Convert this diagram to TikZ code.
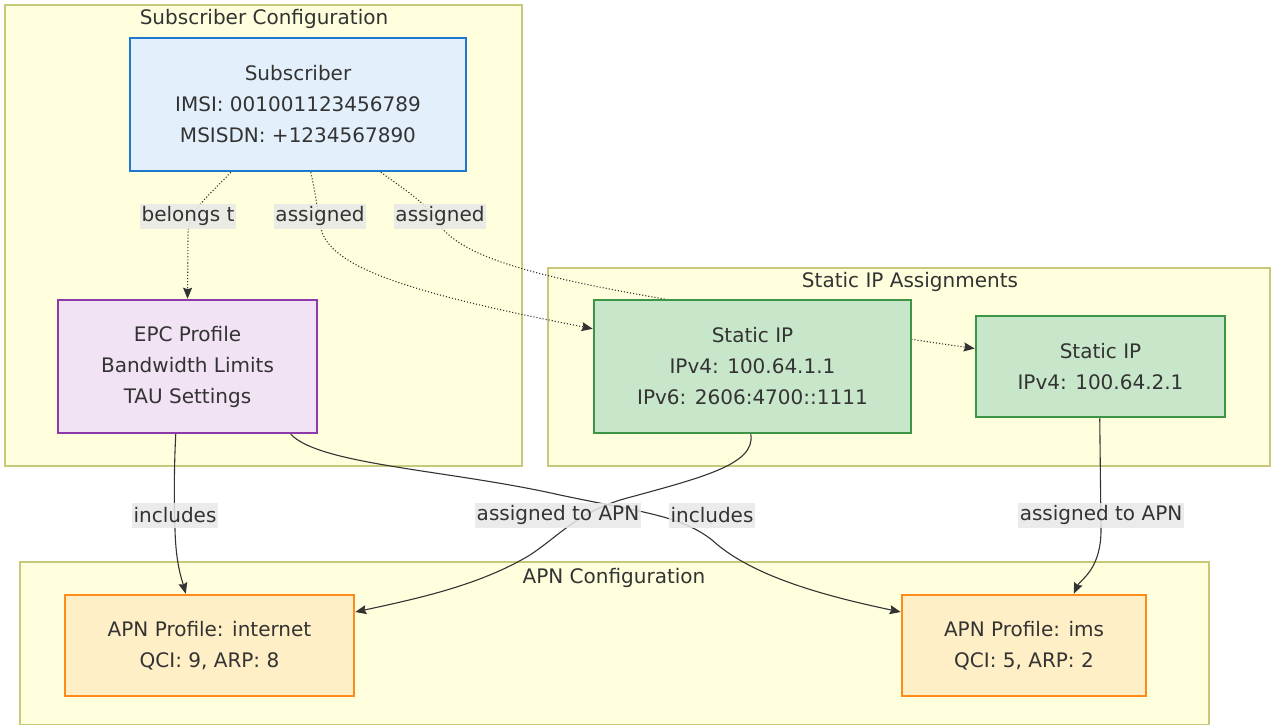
\documentclass[tikz,border=0pt]{standalone}
\usepackage{fontspec}
\setmainfont{DejaVu Sans}
\usetikzlibrary{arrows.meta,calc}
\definecolor{txt}{HTML}{333333}
\definecolor{clfill}{HTML}{FFFFDE}
\definecolor{cldraw}{HTML}{C8C87A}
\definecolor{subfill}{HTML}{E3F0FB}
\definecolor{subdraw}{HTML}{1E78D2}
\definecolor{epcfill}{HTML}{F1E2F4}
\definecolor{epcdraw}{HTML}{8E3AAA}
\definecolor{ipfill}{HTML}{C8E6C9}
\definecolor{ipdraw}{HTML}{3C9446}
\definecolor{apnfill}{HTML}{FFEFC6}
\definecolor{apndraw}{HTML}{FF8C1A}
\definecolor{lblfill}{HTML}{E8E8E8}
\definecolor{edgecol}{HTML}{333333}
\pgfdeclarelayer{clusters}
\pgfdeclarelayer{edges}
\pgfsetlayers{clusters,edges,main}
\tikzset{
  cluster/.style={draw=cldraw, fill=clfill, line width=1.1pt},
  cltitle/.style={text=txt, font=\fontsize{20}{24}\selectfont, inner sep=0pt},
  box/.style={rectangle, line width=2.5pt, text=txt, align=center,
    font=\fontsize{20}{31}\selectfont, inner sep=0pt},
  subbox/.style={box, draw=subdraw, fill=subfill},
  epcbox/.style={box, draw=epcdraw, fill=epcfill},
  ipbox/.style={box, draw=ipdraw, fill=ipfill},
  apnbox/.style={box, draw=apndraw, fill=apnfill},
  elabel/.style={fill=lblfill, fill opacity=0.85, text opacity=1, text=txt,
    font=\fontsize{20}{24}\selectfont, inner xsep=1.5pt, inner ysep=0pt,
    minimum height=25pt},
  solidedge/.style={draw=edgecol, line width=1.1pt, -{Stealth[length=11pt,width=9pt,inset=1.5pt]}},
  dotedge/.style={solidedge, dotted},
}
\begin{document}
\begin{tikzpicture}[x=1pt,y=-1pt]
\useasboundingbox (0,0) rectangle (1272,725);

% nodes
\node[subbox, minimum width=336pt, minimum height=133pt] (sub) at (298,104.5)
  {Subscriber\\IMSI: 001001123456789\\MSISDN: +1234567890};
\node[epcbox, minimum width=259pt, minimum height=133pt] (epc) at (187.5,366.5)
  {EPC Profile\\Bandwidth Limits\\TAU Settings};
\node[ipbox, minimum width=317pt, minimum height=133pt] (sip1) at (752.5,366.5)
  {Static IP\\IPv4: 100.64.1.1\\IPv6: 2606:4700::1111};
\node[ipbox, minimum width=249pt, minimum height=101pt] (sip2) at (1100.5,366.5)
  {Static IP\\IPv4: 100.64.2.1};
\node[apnbox, minimum width=289pt, minimum height=101pt] (apn1) at (209.5,645.5)
  {APN Profile: internet\\QCI: 9, ARP: 8};
\node[apnbox, minimum width=244pt, minimum height=101pt] (apn2) at (1024,645.5)
  {APN Profile: ims\\QCI: 5, ARP: 2};

% clusters
\begin{pgfonlayer}{clusters}
\draw[cluster] (5,5) rectangle (522,466);
\draw[cluster] (548,268) rectangle (1270,466);
\draw[cluster] (20,562) rectangle (1209,724.5);
\node[cltitle] (t1) at (264,19) {Subscriber Configuration};
\node[cltitle] (t2) at (910,282) {Static IP Assignments};
\node[cltitle] (t3) at (614,578) {APN Configuration};
\end{pgfonlayer}

% edge labels
\node[elabel] (l1) at (188,216) {belongs t};
\node[elabel] (l2) at (320,216) {assigned};
\node[elabel] (l3) at (440,216) {assigned};
\node[elabel] (l4) at (175,515) {includes};
\node[elabel] (l5) at (558,515) {assigned to APN};
\node[elabel] (l6) at (712,515) {includes};
\node[elabel] (l7) at (1101,515) {assigned to APN};

% edges
\begin{pgfonlayer}{edges}
\draw[dotedge] ($(sub.south west)+(102,0)$) .. controls (210,195) and (188,210) .. (188,235)
  -- (epc.north);
\draw[dotedge] ($(sub.south west)+(182,0)$) .. controls (316,195) and (318,215) .. (322,232)
  .. controls (335,270) and (420,295) .. ($(sip1.north west)+(0,30)$);
\draw[dotedge] ($(sub.south west)+(252,0)$) .. controls (405,190) and (430,205) .. (442,228)
  .. controls (470,262) and (560,282) .. (700,305)
  .. controls (800,322) and (900,338) .. ($(sip2.west)+(0,-18)$);
\draw[solidedge] ($(epc.south west)+(119,0)$) .. controls (174,470) and (174,500) .. (175,530)
  .. controls (176,565) and (182,580) .. ($(apn1.north west)+(122,0)$);
\draw[solidedge] ($(epc.south west)+(234,0)$) .. controls (320,465) and (450,470) .. (560,495)
  .. controls (640,512) and (680,515) .. (712,540)
  .. controls (750,575) and (820,595) .. ($(apn2.west)+(0,-33.5)$);
\draw[solidedge] ($(sip1.south west)+(158,0)$) .. controls (756,465) and (700,478) .. (620,500)
  .. controls (575,515) and (560,535) .. (530,555)
  .. controls (480,585) and (420,598) .. ($(apn1.east)+(0,-33.5)$);
\draw[solidedge] ($(sip2.south west)+(125,0)$) -- (1101,530)
  .. controls (1101,570) and (1080,580) .. ($(apn2.north west)+(173,0)$);
\end{pgfonlayer}
\end{tikzpicture}
\end{document}
